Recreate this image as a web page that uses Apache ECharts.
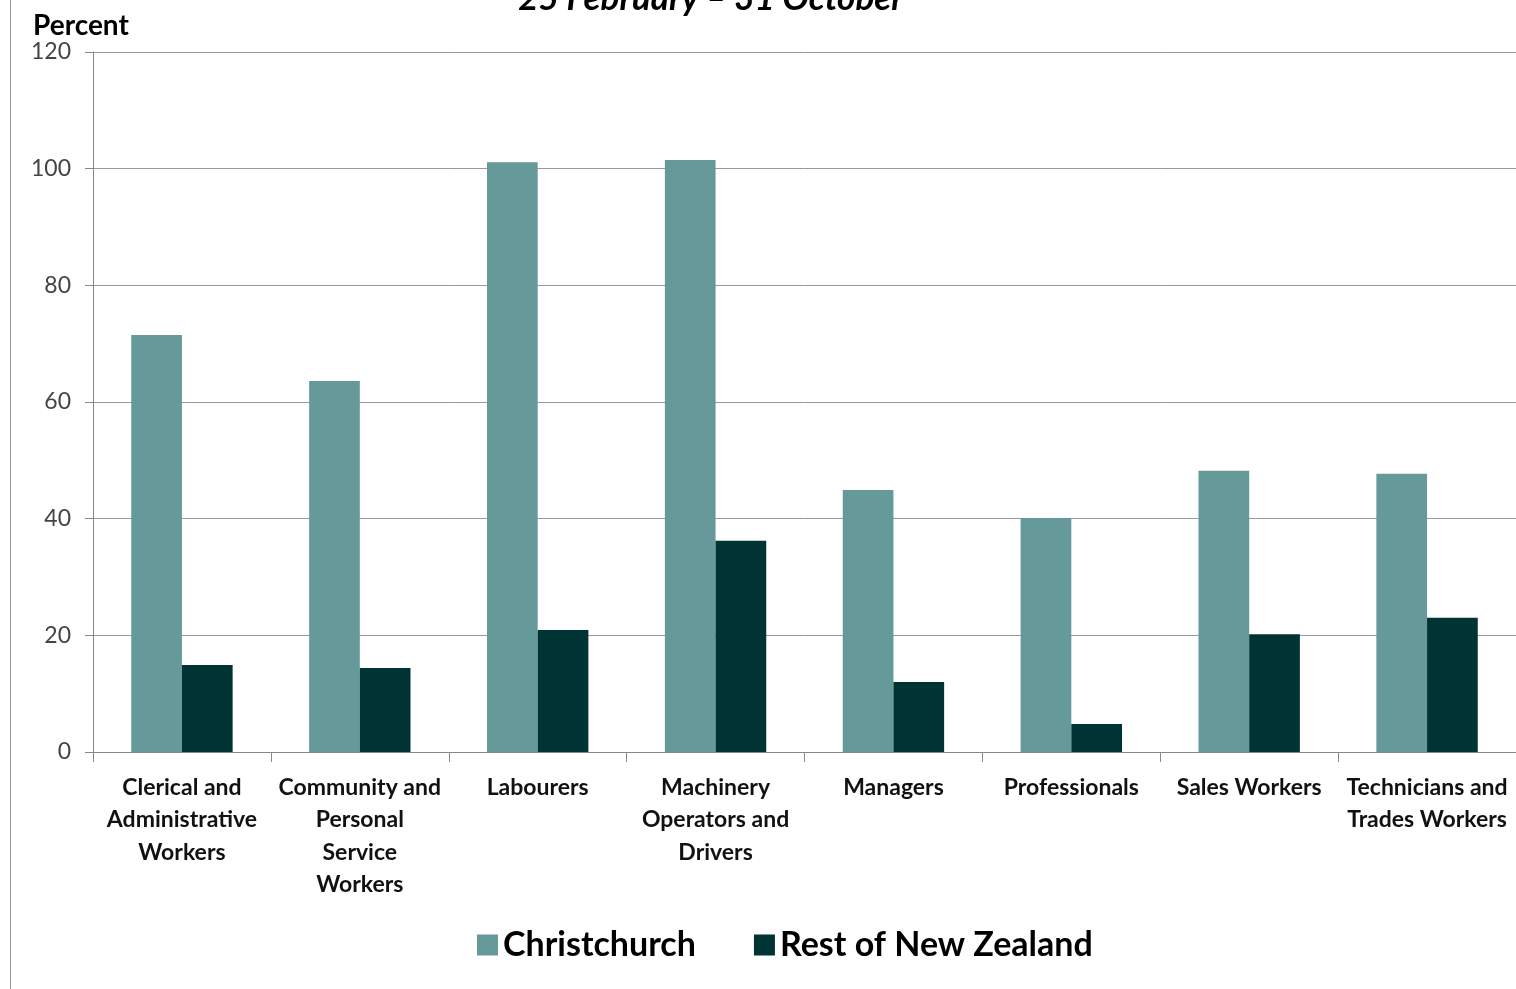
<!DOCTYPE html>
<html>
<head>
<meta charset="utf-8">
<style>
  html, body { margin: 0; padding: 0; background: #fff; }
  #frame { position: absolute; left: 10px; top: 0; width: 1px; height: 989px; background: #999; }
  #container { width: 1516px; height: 989px; }
</style>
</head>
<body>
<div id="frame"></div>
<div id="container"></div>
<script src="https://cdn.jsdelivr.net/npm/echarts@6/dist/echarts.min.js"></script>
<script>
    // occupations
    var categories = [
        'Clerical and\nAdministrative\nWorkers',
        'Community and\nPersonal\nService\nWorkers',
        'Labourers',
        'Machinery\nOperators and\nDrivers',
        'Managers',
        'Professionals',
        'Sales Workers',
        'Technicians and\nTrades Workers'
    ];
    // percent
    var christchurch = [71.5, 63.6, 101.1, 101.5, 44.9, 40.1, 48.2, 47.7];
    var restOfNZ = [14.9, 14.4, 20.9, 36.2, 12.0, 4.8, 20.2, 23.0];

    var font = 'Lato, "Open Sans", sans-serif';
    var myChart = echarts.init(document.getElementById('container'));
    var option = {
        animation: false,
        title: [{
            text: '25 February \u2013 31 October',
            left: 706,
            textAlign: 'center',
            top: -24,
            textStyle: { fontFamily: font, fontSize: 35, fontWeight: 'bold', fontStyle: 'italic', color: '#000' }
        }, {
            text: 'Percent',
            left: 28,
            top: 7,
            textStyle: { fontFamily: font, fontSize: 28, fontWeight: 'bold', color: '#000' }
        }],
        legend: {
            bottom: 22,
            left: 472,
            itemWidth: 21,
            itemHeight: 21,
            itemGap: 58,
            itemStyle: { borderWidth: 0 },
            icon: 'rect',
            textStyle: { fontFamily: font, fontSize: 34, fontWeight: 'bold', color: '#000' },
            data: ['Christchurch', 'Rest of New Zealand']
        },
        grid: { left: 93, right: 0, top: 52, bottom: 237 },
        xAxis: {
            type: 'category',
            data: categories,
            axisLine: { lineStyle: { color: '#888', width: 1 } },
            axisTick: { show: true, length: 10, alignWithLabel: false, lineStyle: { color: '#888' } },
            axisLabel: {
                interval: 0,
                margin: 19,
                fontFamily: font,
                fontSize: 23,
                fontWeight: 'bold',
                lineHeight: 32.5,
                color: '#111'
            }
        },
        yAxis: {
            type: 'value',
            min: 0,
            max: 120,
            interval: 20,
            axisLine: { show: true, lineStyle: { color: '#888' } },
            axisTick: { show: true, length: 8, inside: false, lineStyle: { color: '#888' } },
            splitLine: { lineStyle: { color: '#999', width: 1 } },
            axisLabel: { margin: 22, fontFamily: font, fontSize: 23, color: '#444' }
        },
        series: [
            {
                name: 'Christchurch',
                type: 'bar',
                barGap: '0%',
                barCategoryGap: '43%',
                itemStyle: { color: '#669999' },
                data: christchurch
            },
            {
                name: 'Rest of New Zealand',
                type: 'bar',
                itemStyle: { color: '#003333' },
                data: restOfNZ
            }
        ]
    };
    myChart.setOption(option, true);
</script>
</body>
</html>
